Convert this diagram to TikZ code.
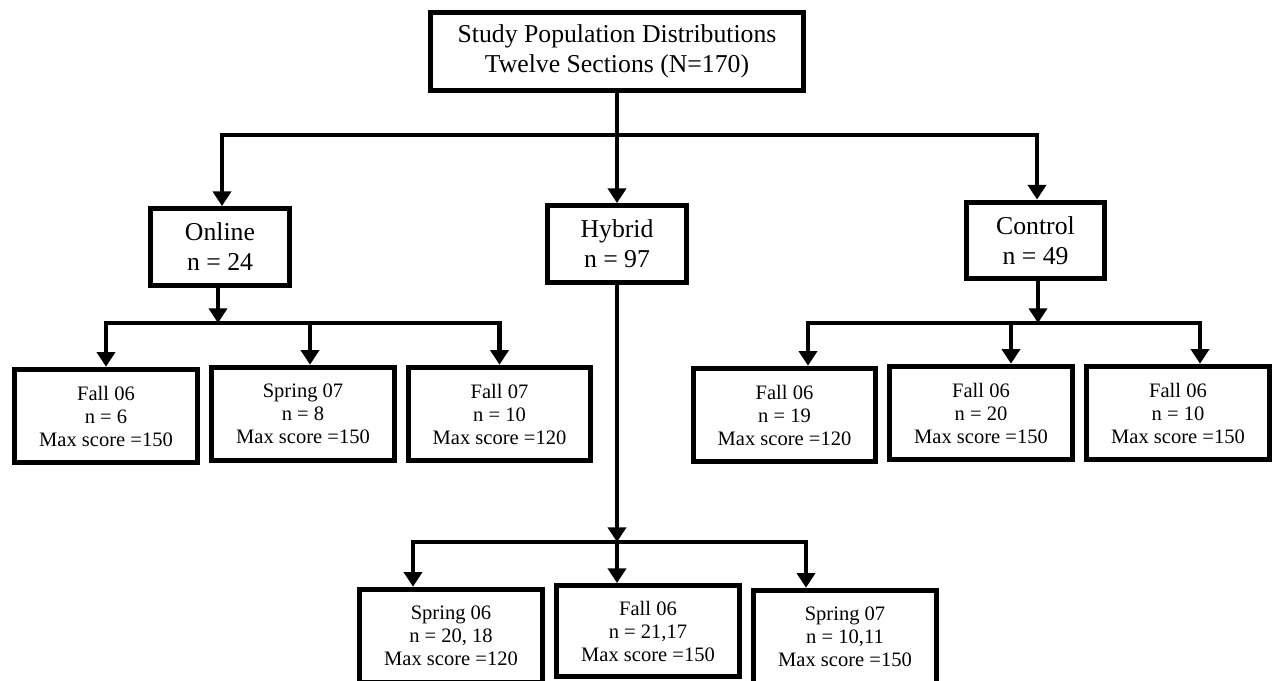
\documentclass[tikz,border=0pt]{standalone}
\usepackage{fontspec}
\setmainfont{Liberation Serif}
\usetikzlibrary{arrows.meta, calc}

\begin{document}
\begin{tikzpicture}[x=0.75pt, y=-0.75pt,
  box/.style={draw, line width=3.9pt, fill=white, align=center, inner sep=2pt},
  rootbox/.style={box, minimum width=280pt, minimum height=58.5pt,
                  font=\fontsize{19.3}{22.5}\selectfont},
  grp/.style={box, minimum width=104pt, minimum height=57.5pt,
              font=\fontsize{19.3}{22.5}\selectfont},
  sub/.style={box, minimum width=137pt, minimum height=70pt,
              font=\fontsize{15.4}{17.25}\selectfont},
  arr/.style={-{Triangle[length=11pt, width=13.5pt]}, line width=3.4pt},
  link/.style={line width=3.4pt}
]
  \useasboundingbox (0,0) rectangle (1277,681);

  \node[rootbox] (study) at (617, 51.5) {Study Population Distributions\\ Twelve Sections (N=170)};

  \node[grp] (online)  at (220, 247)    {Online\\ n = 24};
  \node[grp] (hybrid)  at (617, 244)    {Hybrid\\ n = 97};
  \node[grp] (control) at (1035.5, 240.5) {Control\\ n = 49};

  % online sections
  \node[sub] (o1) at (106, 416)   {Fall 06\\ n = 6\\ Max score =150};
  \node[sub] (o2) at (303, 414)   {Spring 07\\ n = 8\\ Max score =150};
  \node[sub] (o3) at (499.5, 414) {Fall 07\\ n = 10\\ Max score =120};

  % control sections
  \node[sub] (c1) at (784.5, 415) {Fall 06\\ n = 19\\ Max score =120};
  \node[sub] (c2) at (981, 413)   {Fall 06\\ n = 20\\ Max score =150};
  \node[sub] (c3) at (1178, 413)  {Fall 06\\ n = 10\\ Max score =150};

  % hybrid sections
  \node[sub] (h1) at (451, 636) {Spring 06\\ n = 20, 18\\ Max score =120};
  \node[sub, minimum height=68pt] (h2) at (648, 631) {Fall 06\\ n = 21,17\\ Max score =150};
  \node[sub] (h3) at (845, 637) {Spring 07\\ n = 10,11\\ Max score =150};

  \coordinate (split)  at (617, 135);
  \coordinate (osplit) at (218, 323);
  \coordinate (csplit) at (1038, 323);
  \coordinate (hsplit) at (617, 542);

  \draw[link] (study) -- (split);
  \draw[arr] (split) -| ($(online.north)+(2,0)$);
  \draw[arr] (split) -- (hybrid);
  \draw[arr] (split) -| ($(control.north)+(1.5,0)$);

  \draw[arr] (online.south -| osplit) -- (osplit);
  \draw[arr] (osplit) -| (o1);
  \draw[arr] (osplit) -| ($(o2.north)+(7,0)$);
  \draw[arr] (osplit) -| (o3);

  \draw[arr] (control.south -| csplit) -- (csplit);
  \draw[arr] (csplit) -| ($(c1.north)+(23.5,0)$);
  \draw[arr] (csplit) -| ($(c2.north)+(30,0)$);
  \draw[arr] (csplit) -| ($(c3.north)+(22,0)$);

  \draw[arr] (hybrid) -- (hsplit);
  \draw[arr] (hsplit) -| ($(h1.north)+(-38,0)$);
  \draw[arr] (hsplit) -| ($(h2.north)+(-31,0)$);
  \draw[arr] (hsplit) -| ($(h3.north)+(-39,0)$);
\end{tikzpicture}
\end{document}
